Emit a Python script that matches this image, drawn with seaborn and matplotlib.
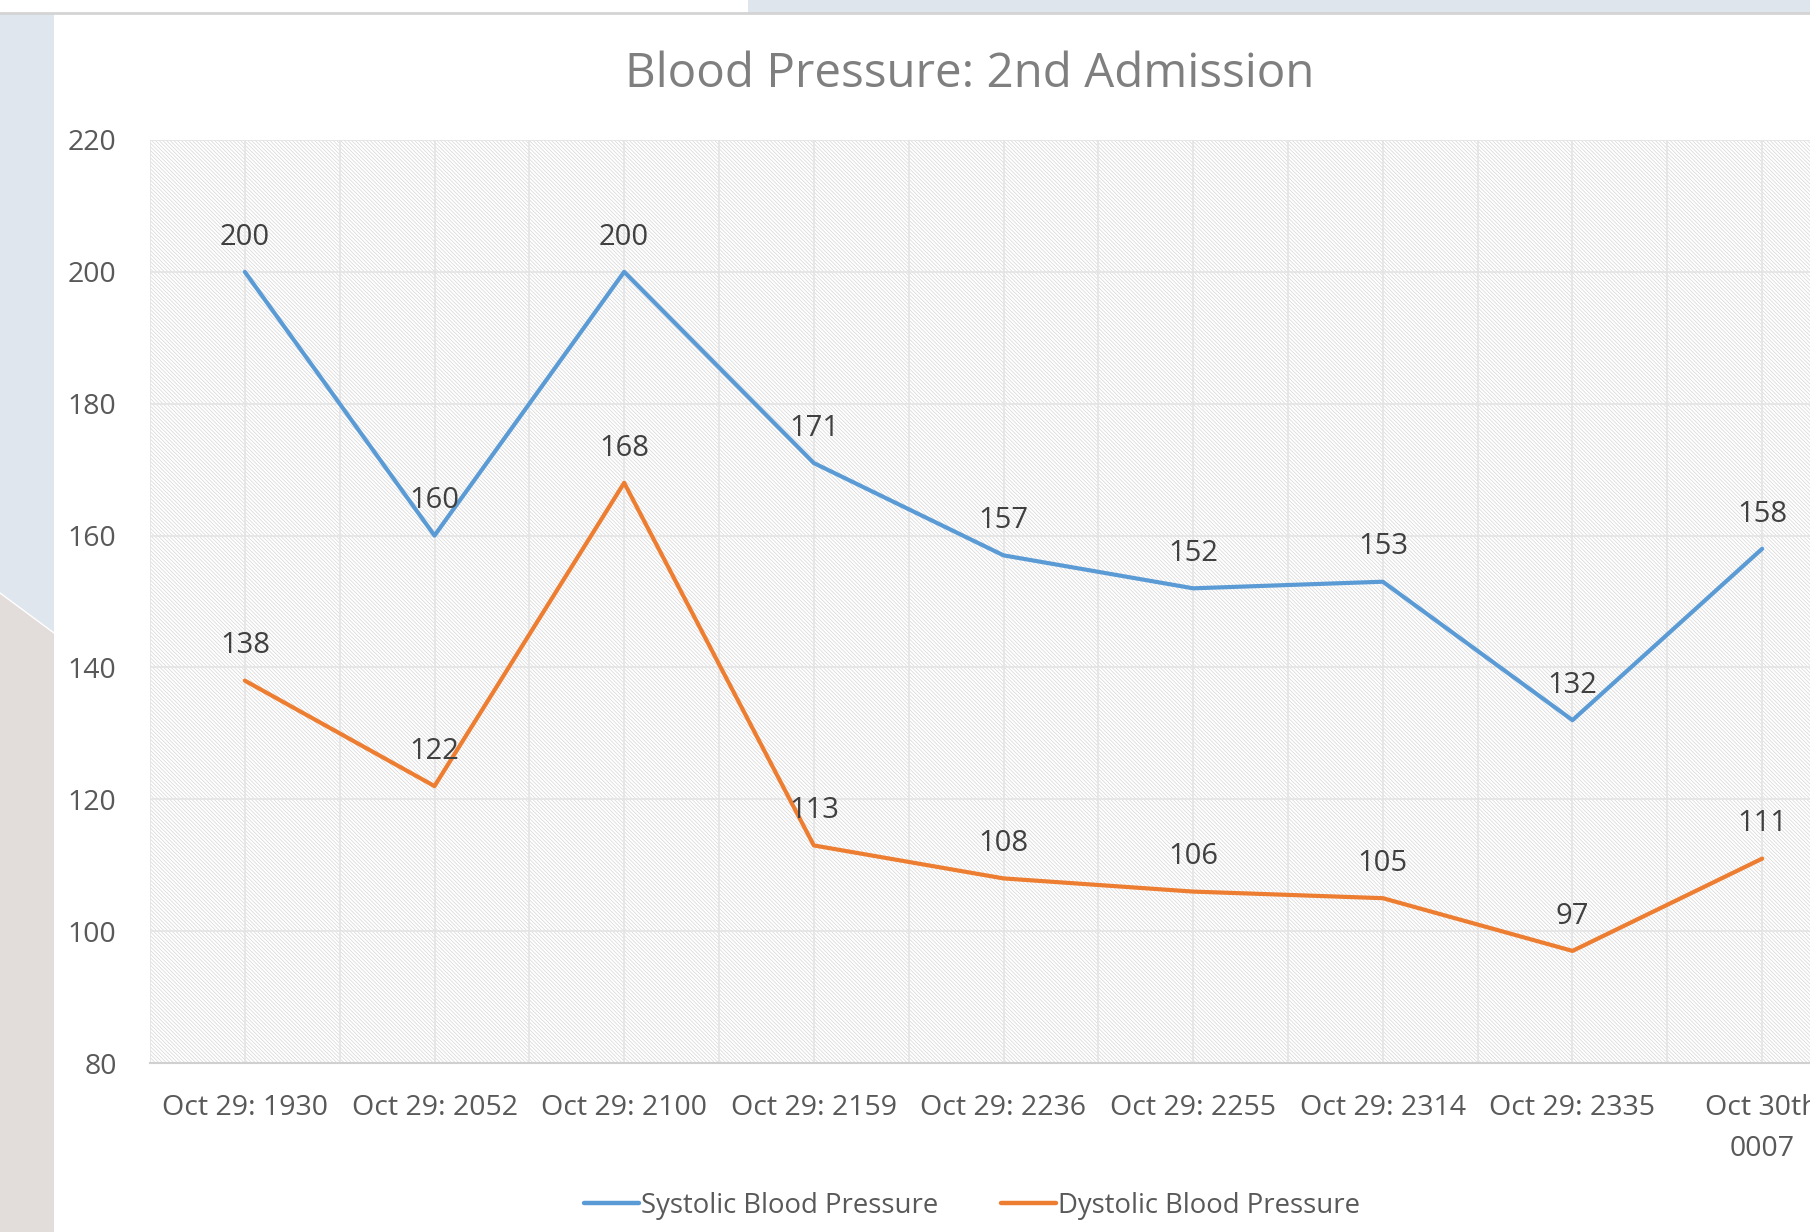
import numpy as np
import pandas as pd
import matplotlib
matplotlib.use('Agg')
import matplotlib.pyplot as plt
from matplotlib.patches import Rectangle, Polygon
from matplotlib.lines import Line2D
import seaborn as sns

# 数据
times = ['Oct 29: 1930', 'Oct 29: 2052', 'Oct 29: 2100', 'Oct 29: 2159', 'Oct 29: 2236',
         'Oct 29: 2255', 'Oct 29: 2314', 'Oct 29: 2335', 'Oct 30th\n0007']
systolic = [200, 160, 200, 171, 157, 152, 153, 132, 158]
diastolic = [138, 122, 168, 113, 108, 106, 105, 97, 111]
series_names = ['Systolic Blood Pressure', 'Dystolic Blood Pressure']
colors = ['#5B9BD5', '#ED7D31']
y_ticks = [80, 100, 120, 140, 160, 180, 200, 220]

df = pd.DataFrame({
    'idx': list(range(len(times))) * 2,
    'value': systolic + diastolic,
    'series': [series_names[0]] * len(times) + [series_names[1]] * len(times),
})

sns.set_theme(style='white')
plt.rcParams['font.family'] = ['Open Sans', 'DejaVu Sans']
plt.rcParams['hatch.linewidth'] = 0.5

W, H = 1810, 1232
fig = plt.figure(figsize=(W / 100, H / 100), dpi=100)
fig.patch.set_facecolor('white')

def fx(x):
    return x / W

def fy(y):
    return 1 - y / H

# 背景装饰
fig.add_artist(Rectangle((fx(748), fy(13)), fx(W - 748), 13 / H, transform=fig.transFigure,
                         facecolor='#dee5ec', edgecolor='none', zorder=0))
fig.add_artist(Polygon([(fx(0), fy(14)), (fx(54), fy(14)), (fx(54), fy(633)), (fx(0), fy(593))],
                       closed=True, transform=fig.transFigure, facecolor='#dfe6ed', edgecolor='none', zorder=0))
fig.add_artist(Polygon([(fx(0), fy(593)), (fx(54), fy(633)), (fx(54), fy(H)), (fx(0), fy(H))],
                       closed=True, transform=fig.transFigure, facecolor='#e2dcda', edgecolor='none', zorder=0))
fig.add_artist(Line2D([fx(0), fx(54)], [fy(593), fy(633)], transform=fig.transFigure,
                      color='white', lw=1, zorder=1))
fig.add_artist(Line2D([0, 1], [fy(13), fy(13)], transform=fig.transFigure,
                      color='#d4d4d4', lw=2, zorder=1))

ax = fig.add_axes([fx(150), fy(1063), 1707 / W, (1063 - 140) / H])
ax.set_facecolor('white')
ax.add_patch(Rectangle((0, 0), 1, 1, transform=ax.transAxes, facecolor='white',
                       edgecolor='#d6d6d6', hatch='\\' * 9, lw=0, zorder=0.1))

sns.lineplot(data=df, x='idx', y='value', hue='series', palette=colors, sort=False,
             linewidth=3, ax=ax, legend=False, zorder=3)

for vals, c in zip([systolic, diastolic], colors):
    for i, v in enumerate(vals):
        ax.annotate(str(v), (i, v), xytext=(0, 25), textcoords='offset points',
                    ha='center', va='center', fontsize=21, color='#404040', zorder=4)

ax.set_xlim(-0.5, len(times) - 0.5)
ax.set_ylim(80, 220)
ax.set_xticks(range(len(times)))
ax.set_xticklabels(times, fontsize=20.5, color='#595959', linespacing=1.65)
ax.set_yticks(y_ticks)
ax.set_yticklabels([str(t) for t in y_ticks], fontsize=20.5, color='#595959')
ax.set_xticks(np.arange(-0.5, len(times), 1.0), minor=True)
ax.tick_params(axis='both', which='both', length=0)
ax.tick_params(axis='x', pad=22)
ax.tick_params(axis='y', pad=24)
ax.grid(True, which='both', color='#e4e4e4', lw=1.2)
ax.set_axisbelow(True)
ax.set_xlabel('')
ax.set_ylabel('')
for s in ['top', 'left', 'right']:
    ax.spines[s].set_visible(False)
ax.spines['bottom'].set_color('#d0d0d0')
ax.spines['bottom'].set_linewidth(1.5)

fig.text(fx(970), fy(74), 'Blood Pressure: 2nd Admission', ha='center', va='center',
         fontsize=34.2, color='#7f7f7f')

handles = [Line2D([], [], color=c, lw=3.2) for c in colors]
fig.legend(handles, series_names, loc='center', bbox_to_anchor=(fx(972), fy(1206)), ncol=2,
           frameon=False, fontsize=19.8, labelcolor='#595959', handlelength=2.0,
           handletextpad=0.05, columnspacing=2.3)

fig.savefig('out.png', dpi=100)
